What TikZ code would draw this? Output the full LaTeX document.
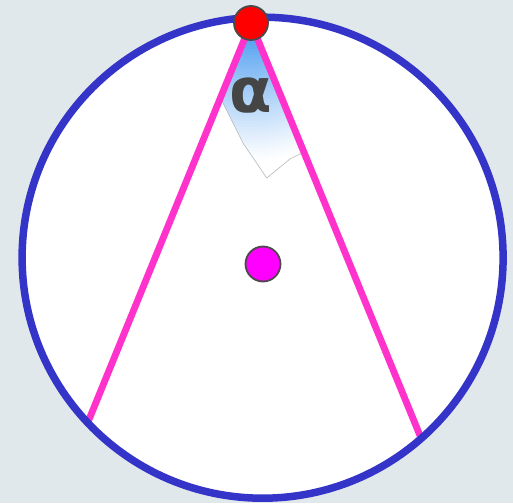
\documentclass[tikz,border=0pt]{standalone}
\usepackage{fontspec}
\newfontfamily\alphafont{DejaVu Sans}
\definecolor{bgc}{HTML}{E1E8EC}
\definecolor{ringc}{HTML}{3434C8}
\definecolor{legc}{HTML}{FF33CC}
\definecolor{dotedge}{HTML}{4A4A4A}
\definecolor{wedgeblue}{HTML}{3D94EE}
\definecolor{labelc}{HTML}{454545}
\definecolor{centerc}{HTML}{FF00FF}
\definecolor{vertexc}{HTML}{FF0000}
\begin{document}
\begin{tikzpicture}[x=1pt,y=-1pt,
  ring/.style={draw=ringc,line width=7.5pt},
  leg/.style={draw=legc,line width=6.8pt},
  vertexdot/.style={circle,fill=vertexc,draw=dotedge,line width=1.8pt,minimum size=34pt,inner sep=0pt},
  centerdot/.style={circle,fill=centerc,draw=dotedge,line width=1.8pt,minimum size=35pt,inner sep=0pt},
  anglelabel/.style={text=labelc,font=\alphafont\bfseries\fontsize{62}{62}\selectfont,inner sep=0pt}]
\fill[bgc] (0,0) rectangle (513,503);
\useasboundingbox (0,0) rectangle (513,503);
\coordinate (O) at (262.6,257.7);
\coordinate (A) at (251,23);
\coordinate (L) at (88,422);
\coordinate (R) at (421,438);
\fill[white] (O) circle (240.5);
% angle wedge: stepped radial fade from the apex
\begin{scope}
\clip (A) -- (221.5,100) -- (243,143) -- (266.7,178) -- (290,159) -- (302,153) -- cycle;
\foreach \i in {0,...,45}{
  \pgfmathsetmacro{\rad}{140-3*\i}
  \pgfmathsetmacro{\frac}{max(0.001,1-\rad/140)}
  \pgfmathsetmacro{\pct}{min(100,100*\frac^1.1)}
  \fill[wedgeblue!\pct!white] (A) circle (\rad);
}
\end{scope}
\draw[black!28,line width=0.6pt] (221.5,100) -- (243,143) -- (266.7,178) -- (290,159) -- (302,153);
\draw[leg] (A) -- (L);
\draw[leg] (A) -- (R);
\draw[ring] (O) circle (240.5);
\node[anglelabel] (alpha) at (251,96) {α};
\node[vertexdot] (apex) at (A) {};
\node[centerdot] (ctr) at (263,264) {};
\end{tikzpicture}
\end{document}
